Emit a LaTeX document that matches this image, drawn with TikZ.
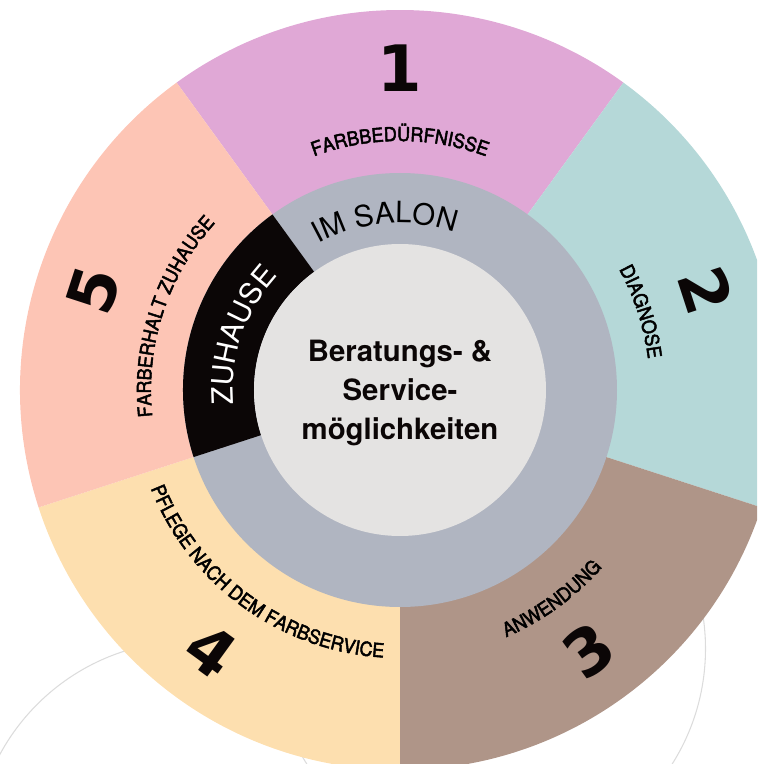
\documentclass[tikz,border=0pt]{standalone}
\usepackage{fontspec}
\setmainfont{TeX Gyre Heros}
\newfontfamily\numfont{DejaVu Sans}
\newfontfamily\labelfont[FakeBold=2.5, FakeStretch=0.93]{TeX Gyre Heros}
\usetikzlibrary{decorations.text}

\definecolor{segpink}{HTML}{E0A8D6}
\definecolor{segteal}{HTML}{B5D8D8}
\definecolor{segbrown}{HTML}{AF9588}
\definecolor{segyellow}{HTML}{FDDFAF}
\definecolor{segsalmon}{HTML}{FDC5B5}
\definecolor{ringgray}{HTML}{B0B5C1}
\definecolor{coregray}{HTML}{E4E3E2}
\definecolor{homeblack}{HTML}{0B0606}
\definecolor{faintline}{HTML}{DCDCDC}

\newcommand{\segfont}{\labelfont\fontsize{14.5}{14.5}\selectfont}
\newcommand{\ringfont}{\fontsize{22}{22}\selectfont}

\begin{document}
\begin{tikzpicture}[x=0.75pt, y=0.75pt]
    % Define styles
    \tikzset{
        faint/.style={draw=faintline, line width=0.8pt},
        numlabel/.style={font=\numfont\bfseries\fontsize{48}{48}\selectfont, text=homeblack, inner sep=0pt},
        seglabel/.style={decorate, decoration={text along path, text align=center, text={|\segfont|#1}}},
        ringlabel/.style={decorate, decoration={text along path, text align=center, text={|\ringfont|#1}}},
        homelabel/.style={decorate, decoration={text along path, text align=center, text={|\ringfont\color{white}|#1}}}
    }
    \useasboundingbox (-400,-374) rectangle (357,390);
    \clip (-400,-374) rectangle (357,390);

    % Background rings
    \draw[faint] (-210,-467) circle[radius=216];
    \draw[faint] (89.5,-258.7) circle[radius=216];

    % Outer segments
    \foreach \a/\col in {90/segpink, 18/segteal, -54/segbrown, -126/segyellow, 162/segsalmon}
        \fill[\col] (0,0) -- ({\a+36}:380) arc[start angle=\a+36, end angle=\a-36, radius=380] -- cycle;

    % Inner rings
    \fill[ringgray] (0,0) circle[radius=217];
    \fill[homeblack] (126:146) -- (126:217) arc[start angle=126, end angle=198, radius=217]
        -- (198:146) arc[start angle=198, end angle=126, radius=146] -- cycle;
    \fill[coregray] (0,0) circle[radius=146];

    % Numbers
    \node[numlabel] (num1) at (90:322) {1};
    \node[numlabel, rotate=-72] (num2) at (18:322) {2};
    \node[numlabel, rotate=36] (num3) at (-54:322) {3};
    \node[numlabel, rotate=-36] (num4) at (-126:322) {4};
    \node[numlabel, rotate=72] (num5) at (162:322) {5};

    % Segment labels
    \path[seglabel=FARBBEDÜRFNISSE] (126:249) arc[start angle=126, end angle=54, radius=249];
    \path[seglabel=DIAGNOSE] (54:250) arc[start angle=54, end angle=-18, radius=250];
    \path[seglabel=ANWENDUNG] (-90:269) arc[start angle=-90, end angle=-18, radius=269];
    \path[seglabel=PFLEGE NACH DEM FARBSERVICE] (-162:268) arc[start angle=-162, end angle=-90, radius=268];
    \path[seglabel=FARBERHALT ZUHAUSE] (198:249) arc[start angle=198, end angle=126, radius=249];

    % Ring labels
    \path[ringlabel=IM SALON] (140:167) arc[start angle=140, end angle=50, radius=167];
    \path[homelabel=ZUHAUSE] (196:167) arc[start angle=196, end angle=126, radius=167];

    % Centre
    \node[align=center, font=\bfseries\fontsize{22}{29.5}\selectfont, text=homeblack] (core) at (0,-3)
        {Beratungs- \&\\Service-\\möglichkeiten};
\end{tikzpicture}
\end{document}
